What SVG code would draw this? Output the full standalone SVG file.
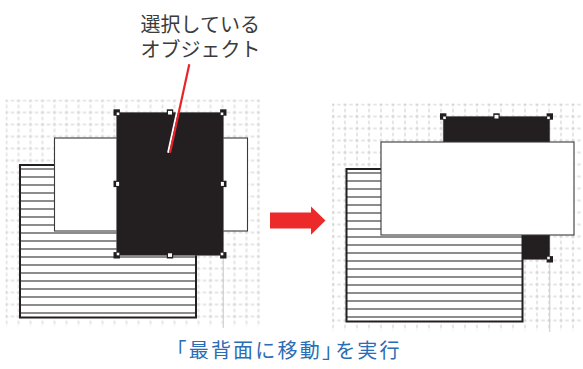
<svg xmlns="http://www.w3.org/2000/svg" width="583" height="369" viewBox="0 0 583 369">
<style>
  .label { font-family: "Noto Sans CJK JP", "Noto Sans", sans-serif; font-size: 20px; fill: #3b3b3b; }
  .caption { font-family: "Noto Sans CJK JP", "Noto Sans", sans-serif; font-size: 20px; fill: #2a6db5; letter-spacing: 2.2px; }
  .hatched { fill: url(#hatch); stroke: #231f20; stroke-width: 2; }
  .plain { fill: #ffffff; stroke: #3a3a3a; stroke-width: 1.1; }
  .solid { fill: #231f20; stroke: #5a5a5a; stroke-width: 0.6; }
  .guide { stroke: #cccccc; stroke-width: 1; fill: none; }
  .grid { fill: url(#grid); }
</style>
<defs>
  <pattern id="grid" patternUnits="userSpaceOnUse" x="0.5" y="94.5" width="12" height="12">
    <rect x="4.25" y="5.5" width="3.5" height="1" fill="#cacaca"/>
    <rect x="0" y="5.5" width="1.75" height="1" fill="#cacaca"/>
    <rect x="10.25" y="5.5" width="1.75" height="1" fill="#cacaca"/>
    <rect x="5.5" y="4.25" width="1" height="3.5" fill="#cacaca"/>
    <rect x="5.5" y="0" width="1" height="1.75" fill="#cacaca"/>
    <rect x="5.5" y="10.25" width="1" height="1.75" fill="#cacaca"/>
  </pattern>
  <pattern id="hatch" patternUnits="userSpaceOnUse" x="0" y="165" width="8" height="8">
    <rect x="0" y="0" width="8" height="8" fill="#ffffff"/>
    <rect x="0" y="3.35" width="8" height="1.3" fill="#4e4e4e"/>
  </pattern>
  <g id="hTL"><rect x="-3.2" y="-3.2" width="6.4" height="6.4" fill="#231f20"/><rect x="0" y="0" width="2.6" height="2.6" fill="#fff"/></g>
  <g id="hTR"><rect x="-3.2" y="-3.2" width="6.4" height="6.4" fill="#231f20"/><rect x="-2.6" y="0" width="2.6" height="2.6" fill="#fff"/></g>
  <g id="hBL"><rect x="-3.2" y="-3.2" width="6.4" height="6.4" fill="#231f20"/><rect x="0" y="-2.6" width="2.6" height="2.6" fill="#fff"/></g>
  <g id="hBR"><rect x="-3.2" y="-3.2" width="6.4" height="6.4" fill="#231f20"/><rect x="-2.6" y="-2.6" width="2.6" height="2.6" fill="#fff"/></g>
  <g id="hT"><rect x="-3.2" y="-3.2" width="6.4" height="6.4" fill="#231f20"/><rect x="-2" y="-1.6" width="4" height="3.6" fill="#fff"/></g>
  <g id="hB"><rect x="-3.2" y="-3.2" width="6.4" height="6.4" fill="#231f20"/><rect x="-2" y="-2" width="4" height="3.6" fill="#fff"/></g>
  <g id="hL"><rect x="-3.2" y="-3.2" width="6.4" height="6.4" fill="#231f20"/><rect x="-0.6" y="-2" width="3" height="4" fill="#fff"/></g>
  <g id="hR"><rect x="-3.2" y="-3.2" width="6.4" height="6.4" fill="#231f20"/><rect x="-2.4" y="-2" width="3" height="4" fill="#fff"/></g>
</defs>

<!-- Before panel -->
<g id="before">
  <rect id="grid-before" class="grid" x="5.5" y="99.5" width="254.5" height="227.5"/>
  <line class="guide" x1="223.3" y1="255" x2="223.3" y2="328"/>
  <g id="hatched-before"><rect class="hatched" x="20" y="165" width="176" height="152.5"/></g>
  <g id="white-before"><rect class="plain" x="54.5" y="138" width="193" height="93"/></g>
  <g id="black-before">
    <rect class="solid" x="116.7" y="112.5" width="106.6" height="142.8"/>
    <use href="#hTL" x="116.7" y="112.5"/>
    <use href="#hT" x="170" y="112.5"/>
    <use href="#hTR" x="223.3" y="112.5"/>
    <use href="#hL" x="116.7" y="183.9"/>
    <use href="#hR" x="223.3" y="183.9"/>
    <use href="#hBL" x="116.7" y="255.3"/>
    <use href="#hB" x="170" y="255.3"/>
    <use href="#hBR" x="223.3" y="255.3"/>
  </g>
</g>

<!-- After panel -->
<g id="after" transform="translate(326.5,4)">
  <rect id="grid-after" class="grid" x="5.5" y="99.5" width="254.5" height="227.5"/>
  <line class="guide" x1="223.3" y1="255" x2="223.3" y2="328"/>
  <g id="black-after">
    <rect class="solid" x="116.7" y="112.5" width="106.6" height="142.8"/>
    <use href="#hTL" x="116.7" y="112.5"/>
    <use href="#hT" x="170" y="112.5"/>
    <use href="#hTR" x="223.3" y="112.5"/>
    <use href="#hL" x="116.7" y="183.9"/>
    <use href="#hR" x="223.3" y="183.9"/>
    <use href="#hBL" x="116.7" y="255.3"/>
    <use href="#hB" x="170" y="255.3"/>
    <use href="#hBR" x="223.3" y="255.3"/>
  </g>
  <g id="hatched-after"><rect class="hatched" x="20" y="165" width="176" height="152.5"/></g>
  <g id="white-after"><rect class="plain" x="54.5" y="138" width="193" height="93"/></g>
</g>

<!-- Label -->
<g id="label">
  <text class="label" x="140.5" y="31.5">選択している<tspan x="140.5" dy="25.5">オブジェクト</tspan></text>
</g>

<!-- Connectors -->
<g id="connectors">
  <line x1="187.4" y1="64.3" x2="168.1" y2="152.7" stroke="#ffffff" stroke-width="2"/>
  <line x1="189.3" y1="64.3" x2="170" y2="152.7" stroke="#e8242a" stroke-width="2.2"/>
  <polygon points="270,212.5 311,212.5 311,206.5 325.5,220.6 311,234.7 311,228.5 270,228.5" fill="#ec2a2a"/>
</g>

<!-- Caption -->
<g id="caption">
  <text class="caption" x="166.5" y="358" dx="0 0 0 0 0 0 0 0 -9 0 0">「最背面に移動」を実行</text>
</g>
</svg>
